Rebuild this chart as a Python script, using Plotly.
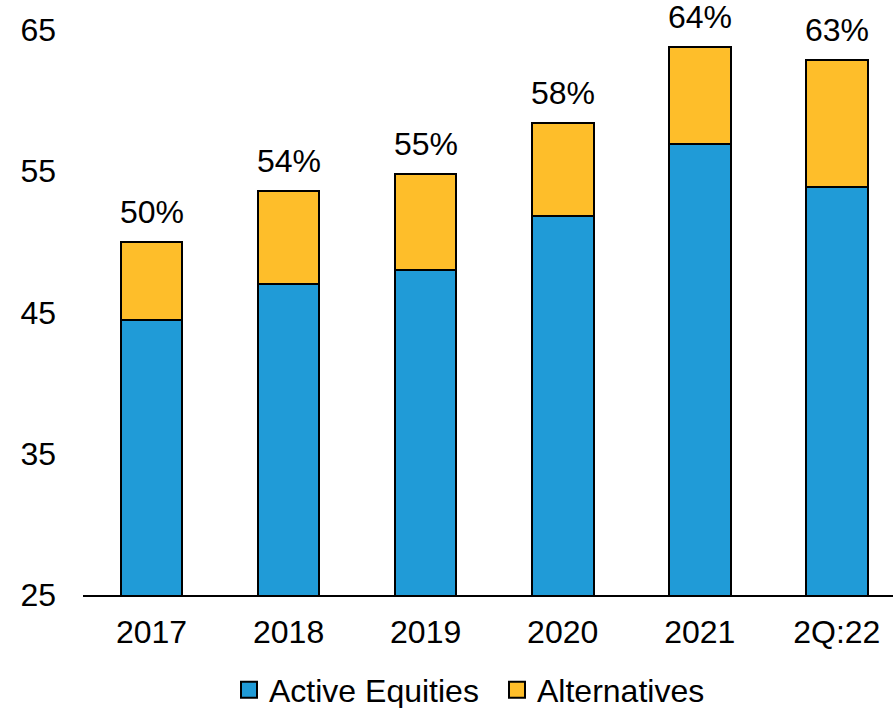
import plotly.graph_objects as go

# Share of assets (%) by period
periods = ["2017", "2018", "2019", "2020", "2021", "2Q:22"]
active_equities = [44.5, 47.0, 48.0, 51.8, 56.9, 53.9]
alternatives = [5.5, 6.6, 6.8, 6.6, 6.9, 9.0]
y_ticks = [25, 35, 45, 55, 65]

totals = [a + b for a, b in zip(active_equities, alternatives)]
total_labels = [f"{round(t)}%" for t in totals]

BLUE = "#209BD7"
GOLD = "#FEBE2A"
FONT = "Liberation Sans, Arial, sans-serif"
FS = 32

fig = go.Figure()
series = [("Active Equities", active_equities, BLUE), ("Alternatives", alternatives, GOLD)]
for name, vals, color in series:
    fig.add_trace(go.Bar(
        x=periods, y=vals, name=name, legendgroup=name, showlegend=False,
        marker=dict(color=color, line=dict(color="black", width=2)),
    ))
# Legend entries with larger square swatches
for name, vals, color in series:
    fig.add_trace(go.Scatter(
        x=[None], y=[None], mode="markers", name=name, legendgroup=name,
        marker=dict(symbol="square", size=16, color=color,
                    line=dict(color="black", width=2)),
    ))

# Total share above each stacked bar (category index used for placement)
for i, (t, lbl) in enumerate(zip(totals, total_labels)):
    fig.add_annotation(
        x=i, y=t, text=lbl, showarrow=False, yanchor="bottom", yshift=10,
        font=dict(size=FS, color="black", family=FONT),
    )

fig.update_layout(
    barmode="stack",
    bargap=0.55,
    width=893, height=708,
    margin=dict(l=83, r=0, t=30, b=113, autoexpand=False),
    paper_bgcolor="white", plot_bgcolor="white",
    font=dict(family=FONT, size=FS, color="black"),
    showlegend=True,
    legend=dict(
        orientation="h", xref="container", x=229 / 893, xanchor="left",
        yref="container", y=1 - 690 / 708, yanchor="middle",
        font=dict(size=FS, family=FONT, color="black"),
        traceorder="normal", itemsizing="trace", entrywidth=223,
        tracegroupgap=0, itemwidth=30, bgcolor="rgba(0,0,0,0)",
    ),
    xaxis=dict(
        type="category",
        range=[-0.5, 5.41],
        showline=True, linecolor="black", linewidth=2,
        ticks="", ticklabelstandoff=8,
        tickfont=dict(size=FS, family=FONT, color="black"),
        showgrid=False, zeroline=False,
    ),
    yaxis=dict(
        range=[25, 65], tickvals=y_ticks,
        showline=False, showgrid=False, zeroline=False,
        ticks="", ticklabelstandoff=26,
        tickfont=dict(size=FS, family=FONT, color="black"),
    ),
)

fig.write_html("out.html")
